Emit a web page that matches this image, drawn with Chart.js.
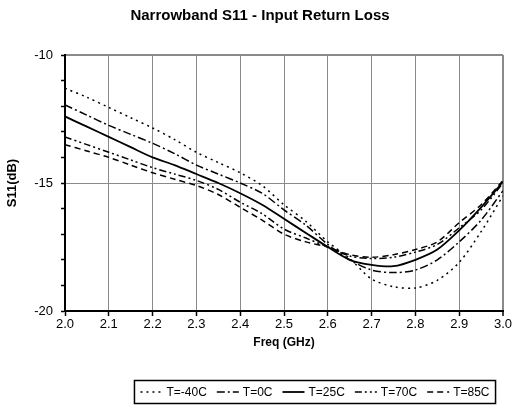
<!DOCTYPE html>
<html>
<head>
<meta charset="utf-8">
<script src="https://cdn.jsdelivr.net/npm/chart.js@4.4.0/dist/chart.umd.min.js"></script>
<style>
  html, body { margin: 0; padding: 0; background: #fff; }
</style>
</head>
<body>
<canvas id="chart" width="516" height="413"></canvas>
<script>
// ---- data ----
const freqGHz = [2.0, 2.05, 2.1, 2.15, 2.2, 2.25, 2.3, 2.35, 2.4, 2.45, 2.5,
                 2.55, 2.6, 2.65, 2.7, 2.75, 2.8, 2.85, 2.9, 2.95, 3.0];

const s11Tm40 = [-11.3, -11.65, -12.05, -12.45, -12.85, -13.3, -13.8, -14.2, -14.6, -15.1, -15.85,
                 -16.5, -17.3, -17.95, -18.75, -19.05, -19.1, -18.8, -18.1, -16.9, -15.5];
const s11T0   = [-11.95, -12.35, -12.75, -13.1, -13.45, -13.85, -14.3, -14.65, -15.0, -15.4, -16.05,
                 -16.65, -17.4, -18.0, -18.4, -18.5, -18.4, -18.0, -17.3, -16.45, -15.3];
const s11T25  = [-12.4, -12.8, -13.2, -13.6, -14.0, -14.3, -14.65, -15.0, -15.4, -15.85, -16.4,
                 -16.95, -17.5, -18.0, -18.2, -18.25, -18.0, -17.6, -16.85, -15.95, -14.95];
const s11T70  = [-13.2, -13.5, -13.8, -14.1, -14.4, -14.65, -14.9, -15.25, -15.75, -16.2, -16.8,
                 -17.15, -17.5, -17.85, -17.95, -17.9, -17.7, -17.4, -16.75, -16.05, -15.0];
const s11T85  = [-13.5, -13.75, -14.0, -14.3, -14.6, -14.85, -15.1, -15.45, -15.95, -16.45, -17.0,
                 -17.3, -17.5, -17.8, -17.9, -17.8, -17.6, -17.3, -16.55, -15.85, -14.9];

const seriesLabels = ['T=-40C', 'T=0C', 'T=25C', 'T=70C', 'T=85C'];
const seriesValues = [s11Tm40, s11T0, s11T25, s11T70, s11T85];

// line styles per series
const dashStyles = [[2, 4], [8, 3, 2, 3], [], [7, 3, 2, 3, 2, 3], [6, 4]];

const FONT = '"Liberation Sans", Arial, sans-serif';
const GRID = '#8a8a8a';

const datasets = seriesLabels.map((label, i) => ({
  label: label,
  data: freqGHz.map((f, j) => ({ x: f, y: seriesValues[i][j] })),
  borderColor: '#000',
  borderWidth: i === 2 ? 1.8 : 1.5,
  borderDash: dashStyles[i],
  pointRadius: 0,
  tension: 0.3,
  fill: false
}));

/**
 * Title and boxed legend, drawn after the chart
 */
const decorations = {
  id: 'decorations',
  afterDraw(chart) {
    const ctx = chart.ctx;
    ctx.save();

    // title
    ctx.fillStyle = '#000';
    ctx.font = 'bold 15px ' + FONT;
    ctx.textAlign = 'center';
    ctx.textBaseline = 'middle';
    ctx.fillText('Narrowband S11 - Input Return Loss', 260, 16);

    // legend
    ctx.font = '12px ' + FONT;
    const sampleLen = 22, gapText = 4, gapItem = 10, boxPad = 6;
    const centerX = 315, centerY = 392, boxH = 23;
    const widths = chart.data.datasets.map(d => ctx.measureText(d.label).width);
    let total = 0;
    widths.forEach((w, i) => { total += sampleLen + gapText + w + (i > 0 ? gapItem : 0); });

    let x = centerX - total / 2;
    const left = x - boxPad;
    ctx.strokeStyle = '#000';
    ctx.lineWidth = 1.5;
    ctx.setLineDash([]);
    ctx.strokeRect(left, centerY - boxH / 2, total + boxPad * 2, boxH);

    ctx.textAlign = 'left';
    chart.data.datasets.forEach((d, i) => {
      ctx.setLineDash(d.borderDash || []);
      ctx.lineWidth = d.borderWidth;
      ctx.beginPath();
      ctx.moveTo(x, centerY);
      ctx.lineTo(x + sampleLen, centerY);
      ctx.stroke();
      ctx.setLineDash([]);
      ctx.fillText(d.label, x + sampleLen + gapText, centerY + 1);
      x += sampleLen + gapText + widths[i] + gapItem;
    });

    ctx.restore();
  }
};

new Chart(document.getElementById('chart'), {
  type: 'line',
  data: { datasets },
  plugins: [decorations],
  options: {
    responsive: false,
    animation: false,
    devicePixelRatio: 1,
    layout: { padding: { left: 0, right: 13, top: 55, bottom: 60 } },
    plugins: {
      legend: { display: false },
      title: { display: false },
      tooltip: { enabled: false }
    },
    scales: {
      x: {
        type: 'linear',
        min: 2.0,
        max: 3.0,
        ticks: {
          stepSize: 0.1,
          color: '#000',
          padding: 1,
          font: { family: FONT, size: 13 },
          callback: (v) => v.toFixed(1)
        },
        grid: {
          color: (c) => (Math.abs(c.tick.value - 2.0) < 1e-6 ? 'rgba(0,0,0,0)' : GRID),
          lineWidth: (c) => (Math.abs(c.tick.value - 3.0) < 1e-6 ? 2 : 1),
          tickColor: '#000',
          tickLength: 5,
          tickWidth: 1.5
        },
        border: { color: '#000', width: 2 },
        title: {
          display: true,
          text: 'Freq (GHz)',
          color: '#000',
          font: { family: FONT, size: 12, weight: 'bold' },
          padding: { top: 0, bottom: 3 }
        },
        afterFit: (scale) => { scale.height = 42; }
      },
      y: {
        min: -20,
        max: -10,
        ticks: {
          stepSize: 1,
          color: '#000',
          padding: 8,
          font: { family: FONT, size: 13 },
          callback: (v) => (v % 5 === 0 ? String(v) : '')
        },
        grid: {
          drawOnChartArea: false,
          color: '#000',
          tickColor: '#000',
          tickLength: 4,
          tickWidth: 1.5
        },
        border: { color: '#000', width: 2 },
        title: {
          display: true,
          text: 'S11(dB)',
          color: '#000',
          font: { family: FONT, size: 13, weight: 'bold' },
          padding: { top: 5, bottom: 0 }
        },
        afterFit: (scale) => { scale.width = 65; }
      },
      yGrid: {
        position: 'left',
        min: -20,
        max: -10,
        ticks: { display: false, stepSize: 5 },
        grid: {
          drawTicks: false,
          color: (c) => (c.tick.value === -20 ? 'rgba(0,0,0,0)' : GRID),
          lineWidth: (c) => (c.tick.value === -10 ? 2 : 1)
        },
        border: { display: false },
        afterFit: (scale) => { scale.width = 0; }
      }
    }
  }
});
</script>
</body>
</html>
